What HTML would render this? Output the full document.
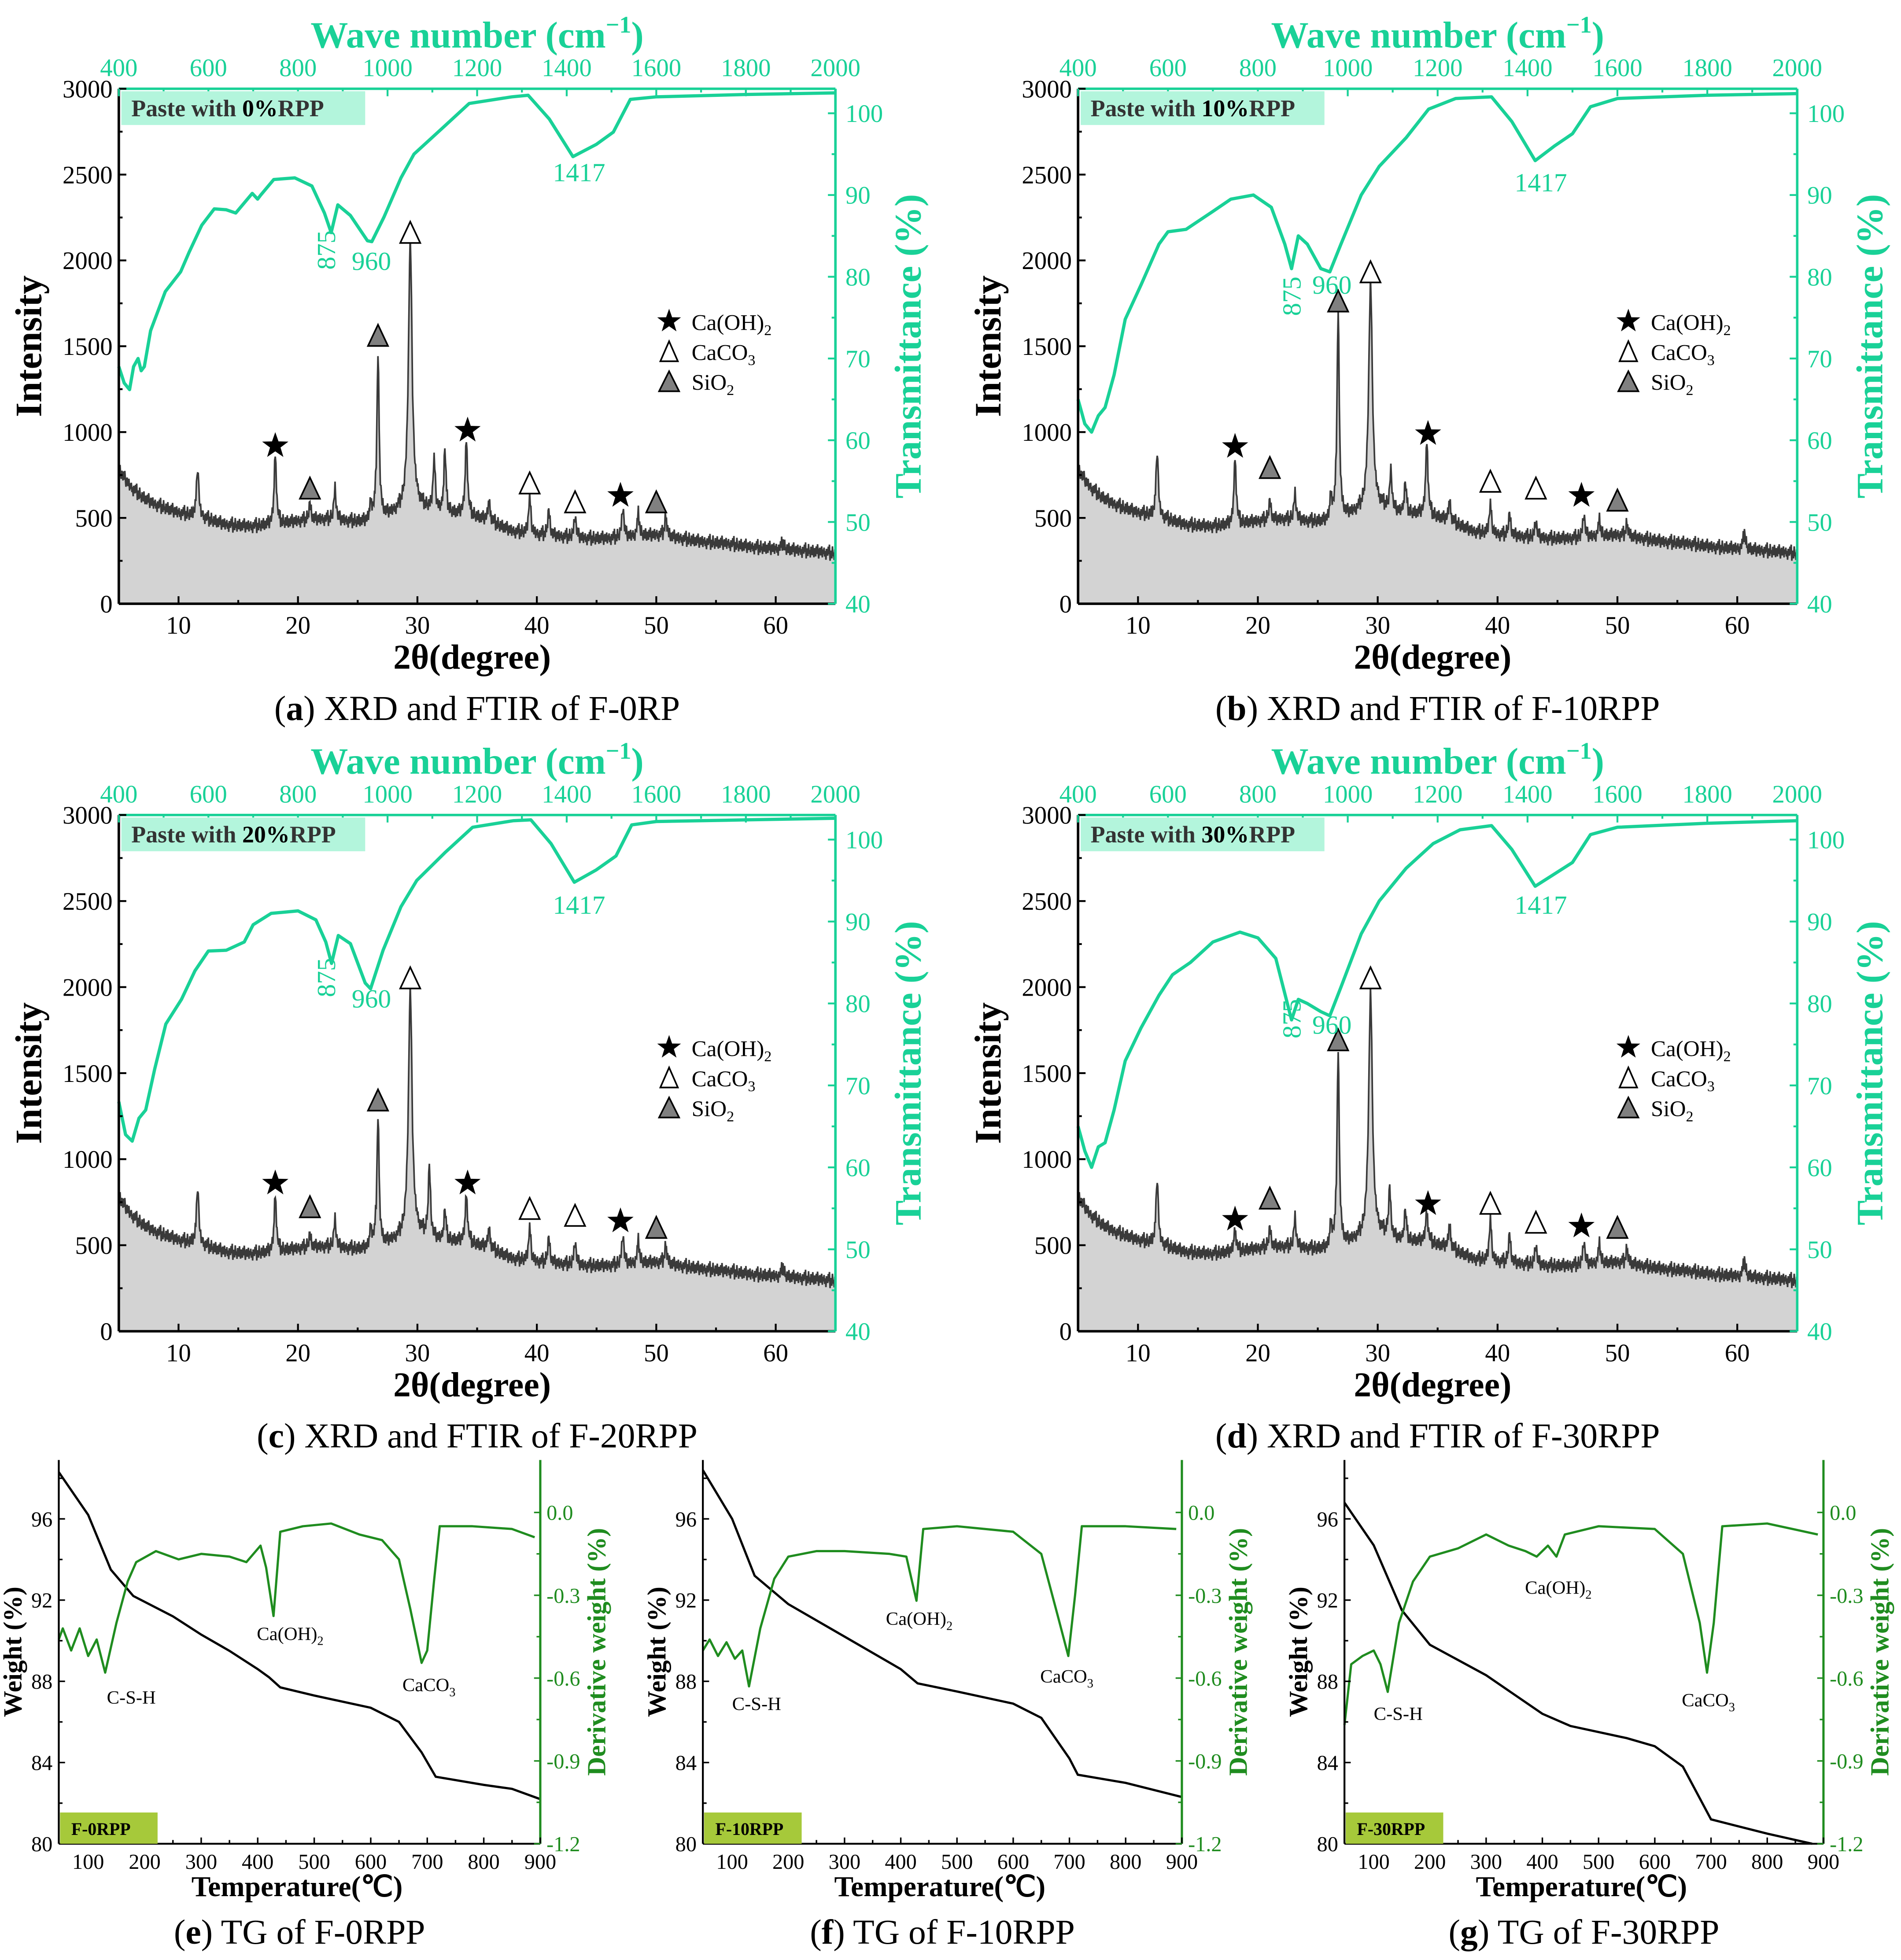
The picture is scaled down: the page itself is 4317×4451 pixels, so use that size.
<!DOCTYPE html>
<html><head><meta charset="utf-8"><style>
html,body{margin:0;padding:0;background:#fff}
svg{display:block;font-family:"Liberation Serif",serif}
</style></head><body>
<svg id="fig" width="4317" height="4451" viewBox="0 0 1520 1568" preserveAspectRatio="none" xmlns="http://www.w3.org/2000/svg">
<rect x="0" y="0" width="1520" height="1568" fill="#fff"/>
</svg>
<script>
// ---------- XRD data (2θ, intensity) ----------
const xrdBase = [[5,780],[6,680],[7,620],[8,580],[10,530],[12,500],[14,460],[16,450],[18,460],[20,480],[22,490],[24,480],[26,470],[28,520],[30,560],[32,520],[34,520],[36,480],[38,420],[40,400],[42,390],[44,380],[46,380],[48,390],[50,400],[52,380],[54,360],[56,350],[58,330],[60,320],[62,310],[64,300],[65,290]];
const xrdPeaksA = [[11.6,800],[18.1,880],[21,580],[23.1,670],[26.1,580],[26.7,1460],[29.4,2110],[31.4,830],[32.3,890],[34.1,960],[36,600],[39.4,620],[41,540],[43.2,510],[47.2,560],[48.5,520],[50.8,510],[60.6,360]];
const xrdPeaksB = [[11.6,900],[18.1,860],[21,600],[23.1,640],[26.1,620],[26.7,1720],[29.4,1870],[31.1,760],[32.3,700],[34.1,950],[36,600],[39.4,580],[41,520],[43.2,480],[47.2,520],[48.5,480],[50.8,470],[60.6,420]];
const xrdPeaksC = [[11.6,850],[18.1,800],[21,560],[23.1,650],[26.1,600],[26.7,1250],[29.4,1980],[31,940],[32.3,700],[34.1,800],[36,600],[39.4,600],[41,540],[43.2,520],[47.2,560],[48.5,520],[50.8,500],[60.6,380]];
const xrdPeaksD = [[11.6,900],[18.1,600],[21,600],[23.1,660],[26.1,620],[26.7,1640],[29.4,1970],[31,820],[32.3,700],[34.1,700],[36,620],[39.4,650],[41,560],[43.2,500],[47.2,520],[48.5,500],[50.8,480],[60.6,420]];
const noiseVals = [12,-20,35,-8,-30,18,5,-25,28,-12,40,-5,-35,10,22,-18,-3,30,-28,15,-10,25,-22,8,-38,20,2,-15,33,-6,45,-40,14,-2,-26,38,-14,6,-33,24];
const markersA = [['s',18.1,920],['g',21,670],['g',26.7,1560],['o',29.4,2160],['s',34.2,1010],['o',39.4,700],['o',43.2,590],['s',47,630],['g',50,590]];
const markersB = [['s',18.1,915],['g',21,790],['g',26.7,1760],['o',29.4,1930],['s',34.2,990],['o',39.4,710],['o',43.2,670],['s',47,630],['g',50,600]];
const markersC = [['s',18.1,860],['g',21,720],['g',26.7,1340],['o',29.4,2050],['s',34.2,860],['o',39.4,710],['o',43.2,670],['s',47,640],['g',50,600]];
const markersD = [['s',18.1,650],['g',21,770],['g',26.7,1690],['o',29.4,2050],['s',34.2,740],['o',39.4,740],['o',43.2,630],['s',47,610],['g',50,600]];
// ---------- FTIR data (wavenumber, transmittance %) ----------
const ftirA = [[400,69],[412,67],[424,66.2],[433,69],[443,70],[450,68.5],[457,69],[471,73.4],[504,78.2],[538,80.6],[557,83],[585,86.3],[613,88.3],[640,88.2],[661,87.8],[698,90.2],[710,89.5],[717,90],[746,91.9],[793,92.1],[831,91.1],[859,87.8],[874,85.4],[889,88.8],[917,87.5],[955,84.4],[965,84.3],[992,87.3],[1030,92.1],[1059,95],[1125,98.3],[1182,101.2],[1277,102],[1314,102.2],[1361,99.3],[1414,94.7],[1466,96.2],[1504,97.7],[1542,101.7],[1599,102],[1800,102.3],[2000,102.5]];
const ftirB = [[400,65],[415,62],[430,61],[445,63],[460,64],[480,68],[505,74.8],[540,79],[580,84],[600,85.5],[640,85.8],[700,88],[740,89.5],[790,90],[830,88.5],[860,84],[875,81],[890,85],[910,84],[940,81],[960,80.6],[985,84],[1030,90],[1070,93.5],[1130,97],[1180,100.5],[1240,101.8],[1320,102],[1365,99],[1417,94.2],[1460,96],[1500,97.5],[1540,100.8],[1600,101.8],[1800,102.2],[2000,102.4]];
const ftirC = [[400,68],[415,64],[430,63.2],[445,66],[460,67],[480,72],[505,77.5],[540,80.5],[570,84],[600,86.4],[640,86.5],[680,87.5],[700,89.6],[740,91],[800,91.3],[840,90.2],[862,87.5],[875,84.9],[890,88.3],[917,87.3],[950,82.5],[962,81.8],[990,86.5],[1030,91.8],[1065,95],[1130,98.5],[1190,101.5],[1280,102.3],[1320,102.4],[1365,99.5],[1417,94.8],[1466,96.3],[1510,98],[1545,101.8],[1600,102.2],[1800,102.4],[2000,102.6]];
const ftirD = [[400,65],[415,62],[430,60],[445,62.5],[460,63],[480,67],[505,73],[540,77],[580,81],[610,83.5],[650,85],[700,87.5],[760,88.7],[800,88],[840,85.5],[875,78],[890,80.5],[910,80],[940,79],[960,78.5],[985,82],[1030,88.5],[1070,92.5],[1130,96.5],[1190,99.5],[1250,101.2],[1320,101.7],[1365,98.8],[1417,94.3],[1460,95.8],[1500,97.2],[1540,100.6],[1600,101.5],[1800,102],[2000,102.3]];
// ---------- TG data ----------
const tgWeightE = [[48,98.3],[100,96.2],[140,93.5],[180,92.2],[250,91.2],[300,90.3],[350,89.5],[400,88.6],[420,88.2],[440,87.7],[500,87.3],[550,87.0],[600,86.7],[650,86.0],[690,84.5],[715,83.3],[800,82.9],[850,82.7],[900,82.2]];
const tgDerivE = [[48,-0.46],[55,-0.42],[70,-0.5],[85,-0.42],[100,-0.52],[115,-0.46],[130,-0.58],[150,-0.4],[170,-0.25],[185,-0.18],[220,-0.14],[260,-0.17],[300,-0.15],[350,-0.16],[380,-0.18],[405,-0.12],[415,-0.2],[428,-0.375],[440,-0.07],[480,-0.05],[530,-0.04],[580,-0.08],[620,-0.1],[650,-0.17],[670,-0.35],[690,-0.545],[700,-0.5],[712,-0.25],[722,-0.05],[780,-0.05],[850,-0.06],[890,-0.09]];
const tgWeightF = [[48,98.4],[100,96],[140,93.2],[200,91.8],[300,90.2],[400,88.6],[430,87.9],[500,87.5],[600,86.9],[650,86.2],[700,84.2],[715,83.4],[800,83.0],[900,82.3]];
const tgDerivF = [[48,-0.5],[60,-0.46],[75,-0.52],[90,-0.47],[105,-0.53],[118,-0.5],[130,-0.63],[150,-0.42],[175,-0.24],[200,-0.16],[250,-0.14],[300,-0.14],[380,-0.15],[410,-0.16],[428,-0.32],[440,-0.06],[500,-0.05],[600,-0.07],[650,-0.15],[680,-0.38],[698,-0.52],[710,-0.3],[722,-0.05],[800,-0.05],[890,-0.06]];
const tgWeightG = [[48,96.8],[100,94.7],[150,91.5],[200,89.8],[300,88.3],[400,86.4],[450,85.8],[550,85.2],[600,84.8],[650,83.8],[700,81.2],[800,80.5],[880,80]];
const tgDerivG = [[48,-0.77],[60,-0.55],[80,-0.52],[100,-0.5],[112,-0.55],[125,-0.65],[145,-0.4],[170,-0.25],[200,-0.16],[250,-0.13],[300,-0.08],[340,-0.12],[370,-0.14],[390,-0.16],[410,-0.12],[425,-0.16],[440,-0.08],[500,-0.05],[600,-0.06],[650,-0.15],[680,-0.4],[693,-0.58],[705,-0.4],[720,-0.05],[800,-0.04],[890,-0.08]];

const NS='http://www.w3.org/2000/svg';
const svg=document.getElementById('fig');
const TEAL='#19d197', GREEN='#1f8c1f';
function mk(tag,attrs,parent){const e=document.createElementNS(NS,tag);for(const k in attrs)e.setAttribute(k,attrs[k]);(parent||svg).appendChild(e);return e;}
function txt(s,x,y,size,opts,parent){opts=opts||{};const t=mk('text',{x:x,y:y,'font-size':size,fill:opts.fill||'#000','text-anchor':opts.anchor||'middle','font-weight':opts.bold?'bold':'normal'},parent);if(opts.rot)t.setAttribute('transform','rotate('+opts.rot+' '+x+' '+y+')');t.textContent=s;return t;}
function interp(arr,x){if(x<=arr[0][0])return arr[0][1];for(let i=1;i<arr.length;i++){if(x<=arr[i][0]){const a=arr[i-1],b=arr[i];return a[1]+(b[1]-a[1])*(x-a[0])/(b[0]-a[0]);}}return arr[arr.length-1][1];}

function xrdPanel(P){
  const g=mk('g',{});
  
  
  const sx=v=>P.x0+(v-5)/60*(P.x1-P.x0);
  const sy=v=>P.y1-v/3000*(P.y1-P.y0);
  const wx=v=>P.x0+(v-400)/1600*(P.x1-P.x0);
  const ty=v=>P.y1-(v-40)/63*(P.y1-P.y0);
  let pts=[];let k=0;
  for(let t=5;t<=65.001;t+=0.05){
    let v=interp(xrdBase,t);
    for(const p of P.peaks){const w=(p[0]>29&&p[0]<29.6)?0.18:0.11;const h=p[1]-interp(xrdBase,p[0]);v+=h/(1+((t-p[0])/w)**2);}
    v+=noiseVals[k%noiseVals.length]*1.1;k++;
    pts.push([sx(t),sy(v)]);
  }
  const d='M'+pts.map(p=>p[0].toFixed(1)+','+p[1].toFixed(1)).join('L');
  const area=mk('path',{d:d+'L'+P.x1+','+P.y1+'L'+P.x0+','+P.y1+'Z',fill:'#d3d3d3',stroke:'none'},g);
  
  
  const line=mk('path',{d:d,fill:'none',stroke:'#3a3a3a','stroke-width':1.3},g);
  
  
  const fd='M'+P.ftir.map(p=>wx(p[0]).toFixed(1)+','+ty(p[1]).toFixed(1)).join('L');
  const fl=mk('path',{d:fd,fill:'none',stroke:TEAL,'stroke-width':2.6,'stroke-linejoin':'round'},g);
  
  
  mk('line',{x1:P.x0,y1:P.y0,x2:P.x0,y2:P.y1,stroke:'#000','stroke-width':2},g);
  mk('line',{x1:P.x0,y1:P.y1,x2:P.x1,y2:P.y1,stroke:'#000','stroke-width':2},g);
  mk('line',{x1:P.x0,y1:P.y0,x2:P.x1,y2:P.y0,stroke:TEAL,'stroke-width':2},g);
  mk('line',{x1:P.x1,y1:P.y0,x2:P.x1,y2:P.y1,stroke:TEAL,'stroke-width':2},g);
  for(let v=0;v<=3000;v+=250){const y=sy(v);mk('line',{x1:P.x0,y1:y,x2:P.x0+(v%500?3:6),y2:y,stroke:'#000','stroke-width':1.5},g);if(v%500===0)txt(String(v),P.x0-5,y+7,20,{anchor:'end'},g);}
  for(let v=10;v<=60;v+=5){const x=sx(v);mk('line',{x1:x,y1:P.y1,x2:x,y2:P.y1-(v%10?3:6),stroke:'#000','stroke-width':1.5},g);if(v%10===0)txt(String(v),x,P.y1+24,20,{},g);}
  for(let v=400;v<=2000;v+=100){const x=wx(v);mk('line',{x1:x,y1:P.y0,x2:x,y2:P.y0+(v%200?3:6),stroke:TEAL,'stroke-width':1.5},g);if(v%200===0)txt(String(v),x,P.y0-10,20,{fill:TEAL},g);}
  for(let v=40;v<=100;v+=5){const y=ty(v);mk('line',{x1:P.x1,y1:y,x2:P.x1-(v%10?3:6),y2:y,stroke:TEAL,'stroke-width':1.5},g);if(v%10===0)txt(String(v),P.x1+8,y+7,20,{fill:TEAL,anchor:'start'},g);}
  for(const m of P.markers){const x=sx(m[1]),y=sy(m[2]);let e;
    if(m[0]==='s'){const r=11,ri=4.4;let s='';for(let i=0;i<10;i++){const a=-Math.PI/2+i*Math.PI/5;const rr=i%2?ri:r;s+=(x+rr*Math.cos(a)).toFixed(1)+','+(y+rr*Math.sin(a)).toFixed(1)+' ';}e=mk('polygon',{points:s,fill:'#000'},g);}
    else{e=mk('polygon',{points:(x)+','+(y-9)+' '+(x-8)+','+(y+8)+' '+(x+8)+','+(y+8),fill:m[0]==='g'?'#808080':'#fff',stroke:'#000','stroke-width':1.3},g);}
    }
  const lx=P.x0+440,ly=P.y0+186;
  const lg=mk('g',{},g);
  
  
  {let s='';for(let i=0;i<10;i++){const a=-Math.PI/2+i*Math.PI/5;const rr=i%2?4:10;s+=(lx+rr*Math.cos(a)).toFixed(1)+','+(ly+rr*Math.sin(a)).toFixed(1)+' ';}mk('polygon',{points:s,fill:'#000'},lg);}
  mk('polygon',{points:lx+','+(ly+16)+' '+(lx-7)+','+(ly+32)+' '+(lx+7)+','+(ly+32),fill:'#fff',stroke:'#000','stroke-width':1.3},lg);
  mk('polygon',{points:lx+','+(ly+40)+' '+(lx-8)+','+(ly+56)+' '+(lx+8)+','+(ly+56),fill:'#808080',stroke:'#000','stroke-width':1.3},lg);
  const l1=txt('Ca(OH)',lx+18,ly+7,18,{anchor:'start'},lg);const s1=mk('tspan',{'font-size':12,dy:4},l1);s1.textContent='2';
  const l2=txt('CaCO',lx+18,ly+31,18,{anchor:'start'},lg);const s2=mk('tspan',{'font-size':12,dy:4},l2);s2.textContent='3';
  const l3=txt('SiO',lx+18,ly+55,18,{anchor:'start'},lg);const s3=mk('tspan',{'font-size':12,dy:4},l3);s3.textContent='2';
  const L=P.lbl;
  txt('875',L[0],L[1],21,{fill:TEAL,rot:-90},g);
  txt('960',L[2],L[3],21,{fill:TEAL},g);
  txt('1417',L[4],L[5],21,{fill:TEAL},g);
  const tag=mk('rect',{x:P.x0+2,y:P.y0+2,width:195,height:27,fill:'#b3f5dc'},g);
  
  
  const tt=txt('Paste with ',P.x0+10,P.y0+22,19,{anchor:'start',bold:true,fill:'#333'},g);const ts=mk('tspan',{fill:'#000'},tt);ts.textContent=P.pct;const ts2=mk('tspan',{fill:'#333'},tt);ts2.textContent='RPP';
  const cx=(P.x0+P.x1)/2, cy=(P.y0+P.y1)/2;
  const wt=txt('Wave number (cm',cx,P.y0-33,30,{fill:TEAL,bold:true},g);const sup=mk('tspan',{'font-size':19,dy:-12},wt);sup.textContent='\u22121';const cl=mk('tspan',{dy:12},wt);cl.textContent=')';
  
  txt('Intensity',P.x0-62,cy,30,{bold:true,rot:-90},g);
  txt('Transmittance (%)',P.x1+68,cy,30,{bold:true,fill:TEAL,rot:-90},g);
  const bt=txt('2\u03B8(degree)',cx-4,P.y1+52,28,{bold:true},g);
  const cap=txt('(',cx,P.y1+93,28,{},g);const cb=mk('tspan',{'font-weight':'bold'},cap);cb.textContent=P.id;const cr=mk('tspan',{},cap);cr.textContent=') '+P.cap;
  
}
xrdPanel({id:'a',x0:95,x1:668,y0:71,y1:483,peaks:xrdPeaksA,ftir:ftirA,markers:markersA,pct:'0%',cap:'XRD and FTIR of F-0RP',lbl:[268,200,297,216,463,145]});
xrdPanel({id:'b',x0:862,x1:1437,y0:71,y1:483,peaks:xrdPeaksB,ftir:ftirB,markers:markersB,pct:'10%',cap:'XRD and FTIR of F-10RPP',lbl:[1040,237,1065,235,1232,153]});
xrdPanel({id:'c',x0:95,x1:668,y0:652,y1:1065,peaks:xrdPeaksC,ftir:ftirC,markers:markersC,pct:'20%',cap:'XRD and FTIR of F-20RPP',lbl:[268,782,297,806,463,731]});
xrdPanel({id:'d',x0:862,x1:1437,y0:652,y1:1065,peaks:xrdPeaksD,ftir:ftirD,markers:markersD,pct:'30%',cap:'XRD and FTIR of F-30RPP',lbl:[1040,815,1065,827,1232,731]});

function tgPanel(P){
  const g=mk('g',{});
  
  
  const sx=v=>P.x0+(v-48)/(900-48)*(P.x1-P.x0);
  const sy=v=>P.y1-(v-80)/(98.9-80)*(P.y1-P.y0);
  const dy=v=>P.y1-(v+1.2)/1.39*(P.y1-P.y0);
  const wl=mk('path',{d:'M'+P.w.map(p=>sx(p[0]).toFixed(1)+','+sy(p[1]).toFixed(1)).join('L'),fill:'none',stroke:'#000','stroke-width':1.8},g);
  
  
  const dl=mk('path',{d:'M'+P.dv.map(p=>sx(p[0]).toFixed(1)+','+dy(p[1]).toFixed(1)).join('L'),fill:'none',stroke:GREEN,'stroke-width':1.8,'stroke-linejoin':'round'},g);
  
  
  mk('line',{x1:P.x0,y1:P.y0,x2:P.x0,y2:P.y1,stroke:'#000','stroke-width':1.5},g);
  mk('line',{x1:P.x0,y1:P.y1,x2:P.x1,y2:P.y1,stroke:'#000','stroke-width':1.5},g);
  mk('line',{x1:P.x1,y1:P.y0,x2:P.x1,y2:P.y1,stroke:GREEN,'stroke-width':1.8},g);
  for(let v=80;v<=98;v+=2){const y=sy(v);mk('line',{x1:P.x0,y1:y,x2:P.x0+(v%4?3:5),y2:y,stroke:'#000','stroke-width':1.2},g);if(v%4===0&&v<=96)txt(String(v),P.x0-5,y+6,17,{anchor:'end'},g);}
  for(let v=100;v<=900;v+=50){const x=sx(v);mk('line',{x1:x,y1:P.y1,x2:x,y2:P.y1-(v%100?3:5),stroke:'#000','stroke-width':1.2},g);if(v%100===0)txt(String(v),x,P.y1+20,17,{},g);}
  for(let i=0;i<=8;i++){const v=-1.2+i*0.15;const y=dy(v);mk('line',{x1:P.x1,y1:y,x2:P.x1-(i%2?3:5),y2:y,stroke:GREEN,'stroke-width':1.2},g);if(i%2===0)txt(v.toFixed(1).replace('-0.0','0.0'),P.x1+5,y+6,17,{fill:GREEN,anchor:'start'},g);}
  const bx=mk('rect',{x:P.x0+1,y:P.y1-25,width:78,height:25,fill:'#a6c93a'},g);
  
  
  txt(P.name,P.x0+10,P.y1-7,14,{anchor:'start',bold:true},g);
  const L=P.lbl;
  txt('C-S-H',L[0],L[1],15,{},g);
  const c1=txt('Ca(OH)',L[2],L[3],15,{},g);const c1s=mk('tspan',{'font-size':10,dy:4},c1);c1s.textContent='2';
  const c2=txt('CaCO',L[4],L[5],15,{},g);const c2s=mk('tspan',{'font-size':10,dy:4},c2);c2s.textContent='3';
  const cx=(P.x0+P.x1)/2, cy=(P.y0+P.y1)/2;
  txt('Weight (%)',P.x0-30,cy,21,{bold:true,rot:-90},g);
  txt('Derivative weight (%)',P.x1+52,cy,21,{bold:true,fill:GREEN,rot:-90},g);
  txt('Temperature(\u2103)',cx-2,P.y1+42,23,{bold:true},g);
  const cap=txt('(',cx,P.y1+80,28,{},g);const cb=mk('tspan',{'font-weight':'bold'},cap);cb.textContent=P.id;const cr=mk('tspan',{},cap);cr.textContent=') TG of '+P.name;
  
}
tgPanel({id:'e',x0:47,x1:432,y0:1168,y1:1475,w:tgWeightE,dv:tgDerivE,name:'F-0RPP',lbl:[105,1363,232,1312,343,1353]});
tgPanel({id:'f',x0:562,x1:945,y0:1168,y1:1475,w:tgWeightF,dv:tgDerivF,name:'F-10RPP',lbl:[605,1368,735,1300,853,1346]});
tgPanel({id:'g',x0:1075,x1:1458,y0:1168,y1:1475,w:tgWeightG,dv:tgDerivG,name:'F-30RPP',lbl:[1118,1376,1246,1275,1366,1365]});
</script>
</body></html>
